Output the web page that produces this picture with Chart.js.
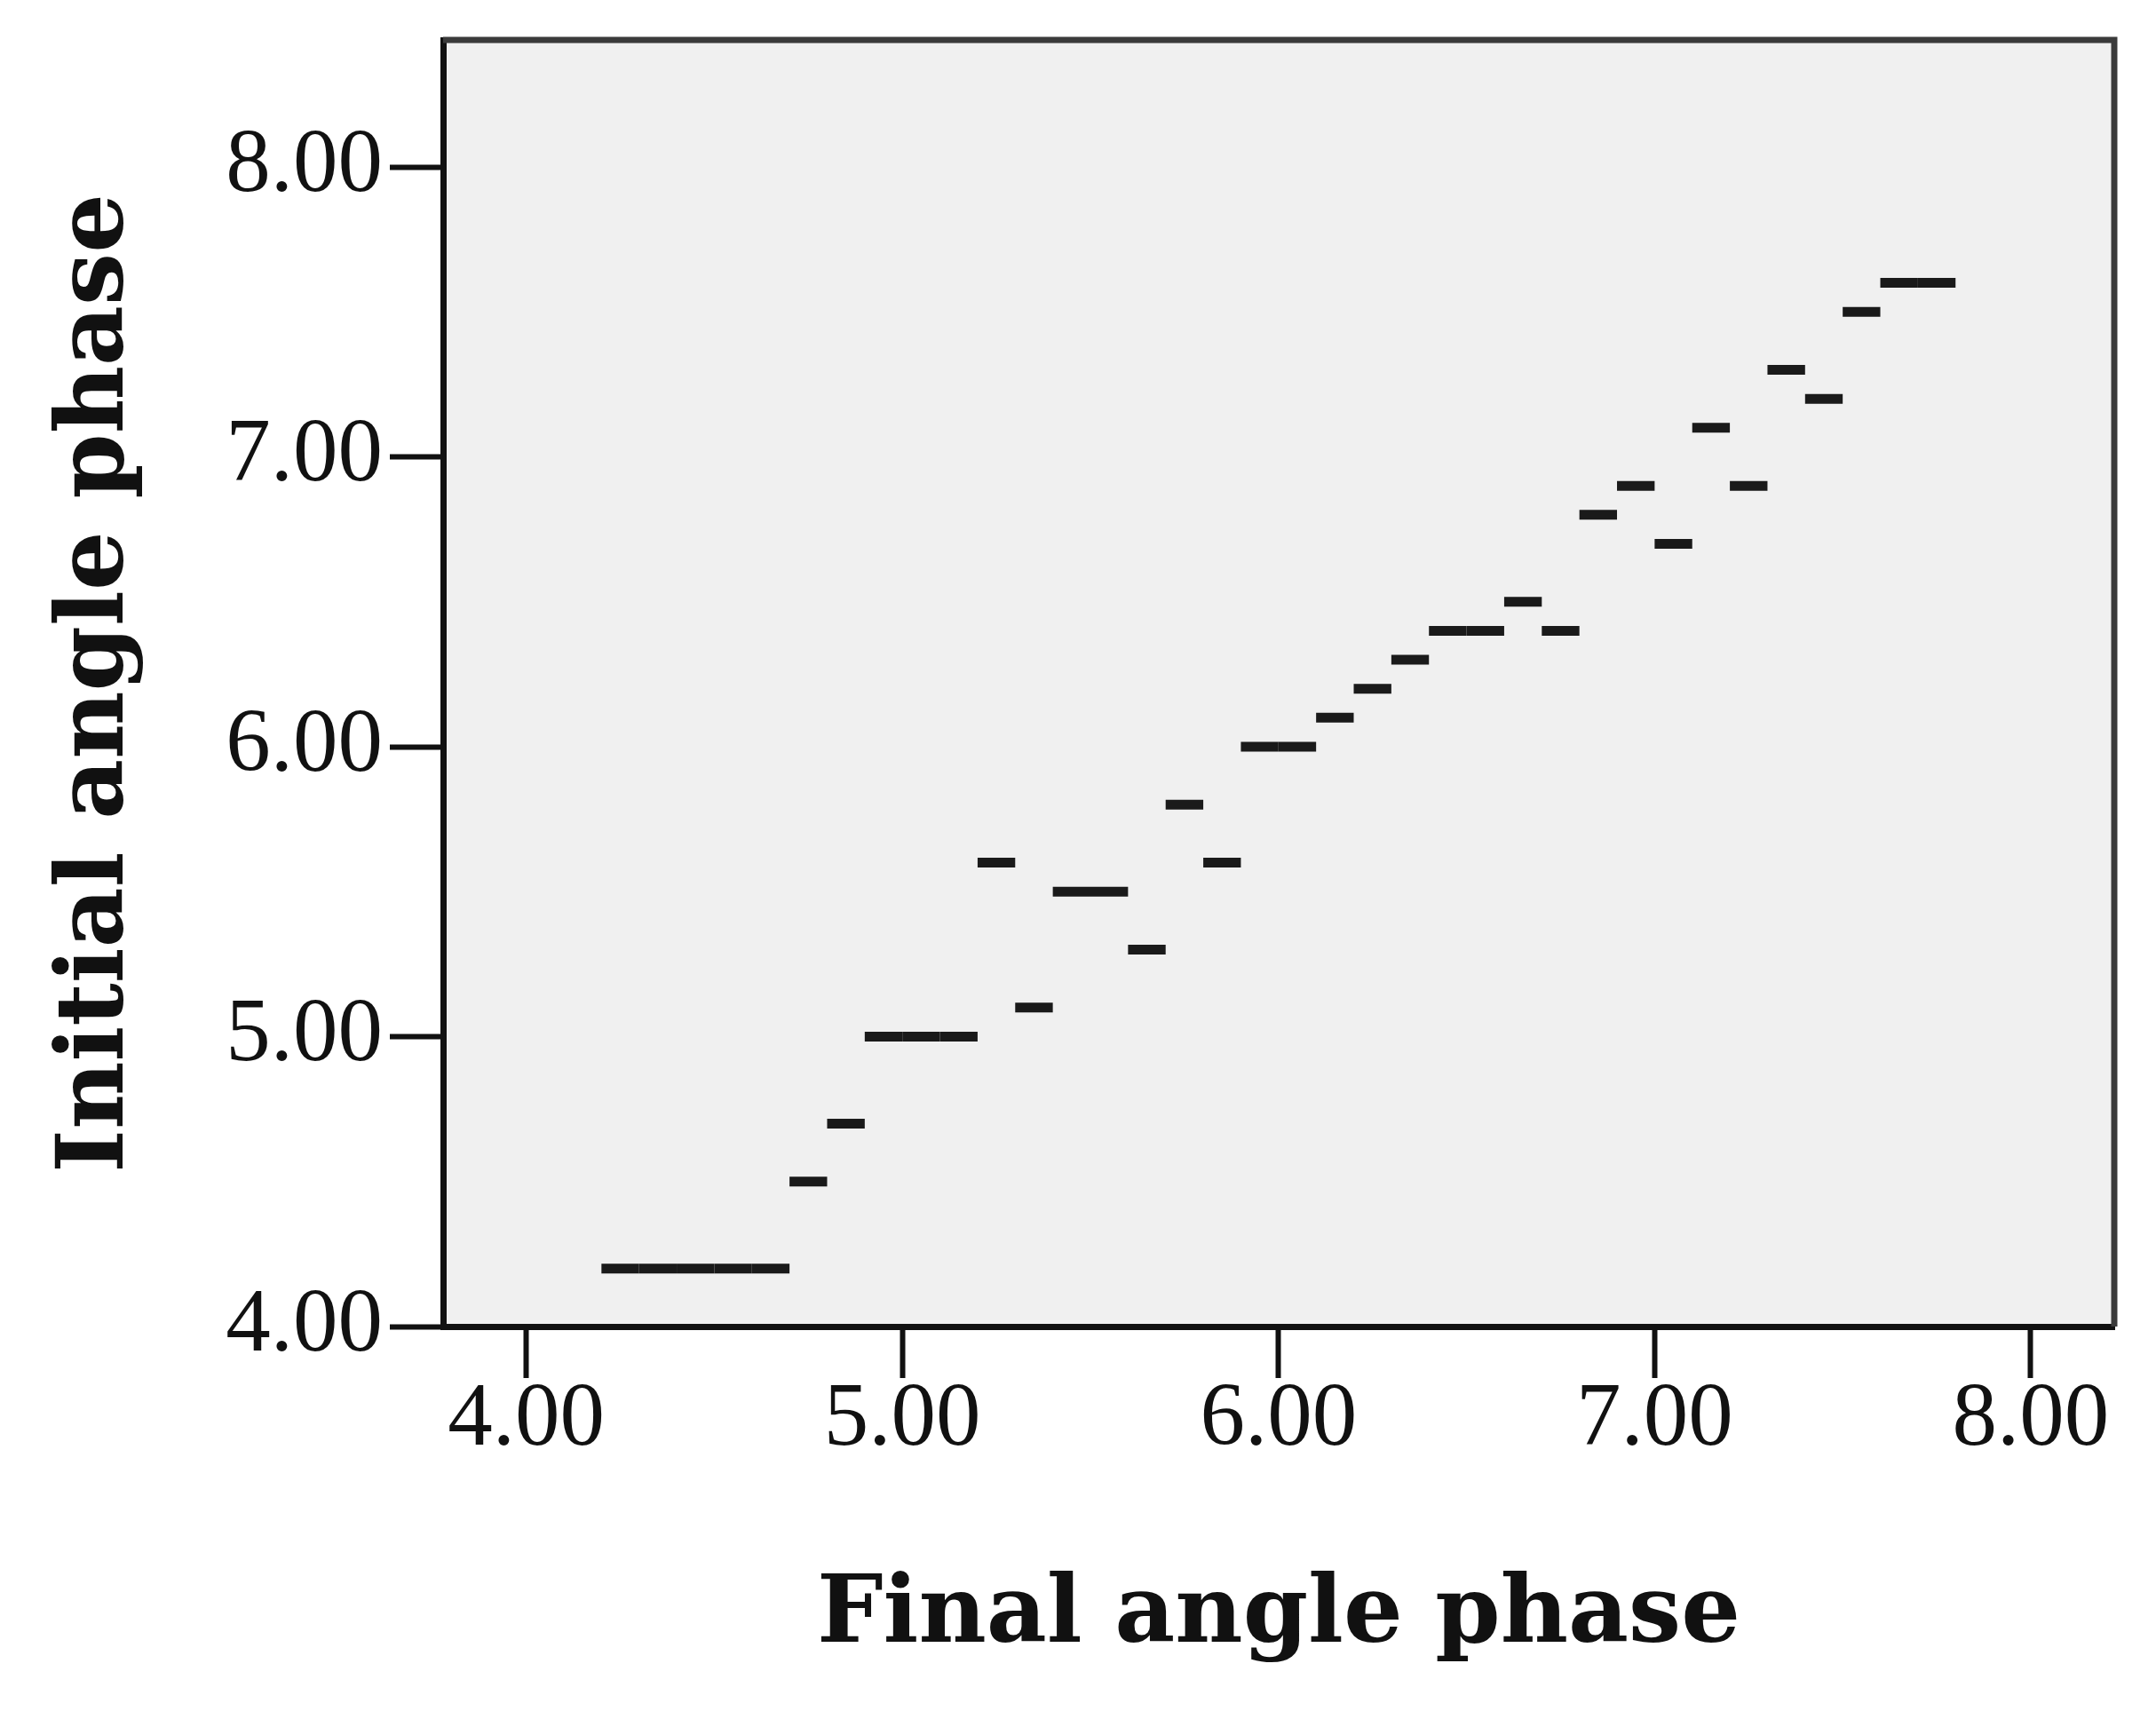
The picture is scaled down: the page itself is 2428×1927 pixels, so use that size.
<!DOCTYPE html>
<html>
<head>
<meta charset="utf-8">
<script src="https://cdn.jsdelivr.net/npm/chart.js@4"></script>
<style>
  html, body { margin: 0; padding: 0; background: #ffffff; }
</style>
</head>
<body>
<canvas id="phaseChart" width="2428" height="1927"></canvas>
<script>
// Final angle phase (x) of each marker
const finalPhase = [4.25, 4.35, 4.45, 4.55, 4.65, 4.75, 4.85, 4.95, 5.05, 5.15,
                    5.25, 5.35, 5.45, 5.55, 5.65, 5.75, 5.85, 5.95, 6.05, 6.15,
                    6.25, 6.35, 6.45, 6.55, 6.65, 6.75, 6.85, 6.95, 7.05, 7.15,
                    7.25, 7.35, 7.45, 7.55, 7.65, 7.75];
// Initial angle phase (y) of each marker
const initialPhase = [4.2, 4.2, 4.2, 4.2, 4.2, 4.5, 4.7, 5.0, 5.0, 5.0,
                      5.6, 5.1, 5.5, 5.5, 5.3, 5.8, 5.6, 6.0, 6.0, 6.1,
                      6.2, 6.3, 6.4, 6.4, 6.5, 6.4, 6.8, 6.9, 6.7, 7.1,
                      6.9, 7.3, 7.2, 7.5, 7.6, 7.6];
const xTicks = [4, 5, 6, 7, 8];
const yTicks = [4, 5, 6, 7, 8];
const xRange = [3.779, 8.222];
const yRange = [4, 8.438];
const markerWidth = 0.1; // each dash covers one 0.1 step on the x axis

const canvas = document.getElementById('phaseChart');

// grey plot background plus the thin top/right frame
const plotFrame = {
    id: 'plotFrame',
    beforeDraw(chart) {
        const { ctx, chartArea: a } = chart;
        ctx.save();
        ctx.fillStyle = '#f0f0f0';
        ctx.fillRect(a.left, a.top, a.right - a.left, a.bottom - a.top);
        ctx.restore();
    },
    afterDraw(chart) {
        const { ctx, chartArea: a } = chart;
        ctx.save();
        ctx.strokeStyle = '#3a3a3a';
        ctx.lineWidth = 7;
        ctx.beginPath();
        ctx.moveTo(a.left, a.top);
        ctx.lineTo(a.right, a.top);
        ctx.lineTo(a.right, a.bottom);
        ctx.stroke();
        ctx.restore();
    }
};

function dashRadius(ctx) { // half of one x step, in pixels
    const s = ctx.chart.scales.x;
    return Math.abs(s.getPixelForValue(markerWidth) - s.getPixelForValue(0)) / 2;
}

const tickFont = { family: 'Liberation Serif', size: 101 };
const titleFont = { family: 'DejaVu Serif', weight: 'bold', size: 105 };

new Chart(canvas, {
    type: 'scatter',
    data: {
        datasets: [{
            data: finalPhase.map((x, i) => ({ x: x, y: initialPhase[i] })),
            pointStyle: 'line',
            pointRadius: dashRadius,
            pointHoverRadius: dashRadius,
            pointBorderWidth: 11,
            pointHoverBorderWidth: 11,
            pointBorderColor: '#1a1a1a',
            pointBackgroundColor: '#1a1a1a',
            showLine: false
        }]
    },
    options: {
        responsive: false,
        animation: false,
        devicePixelRatio: 1,
        layout: { padding: { top: 45, right: 47, left: 0, bottom: 0 } },
        plugins: {
            legend: { display: false },
            tooltip: { enabled: false }
        },
        scales: {
            x: {
                type: 'linear',
                min: xRange[0],
                max: xRange[1],
                afterBuildTicks: s => { s.ticks = xTicks.map(v => ({ value: v })); },
                afterFit: s => { s.height = 433; s.paddingLeft = 0; s.paddingRight = 0; },
                grid: { drawOnChartArea: false, drawTicks: true, tickLength: 58, tickWidth: 6, tickColor: '#111' },
                border: { display: true, color: '#111', width: 7 },
                ticks: {
                    font: tickFont,
                    color: '#111',
                    padding: -12,
                    maxRotation: 0,
                    callback: v => Number(v).toFixed(2)
                },
                title: {
                    display: true,
                    text: 'Final angle phase',
                    font: titleFont,
                    color: '#111',
                    padding: { top: 0, bottom: 42 }
                }
            },
            y: {
                type: 'linear',
                min: yRange[0],
                max: yRange[1],
                afterBuildTicks: s => { s.ticks = yTicks.map(v => ({ value: v })); },
                afterFit: s => { s.width = 499; s.paddingTop = 0; s.paddingBottom = 0; },
                grid: { drawOnChartArea: false, drawTicks: true, tickLength: 60, tickWidth: 6, tickColor: '#111' },
                border: { display: true, color: '#111', width: 7 },
                ticks: {
                    font: tickFont,
                    color: '#111',
                    padding: 8,
                    callback: v => Number(v).toFixed(2)
                },
                title: {
                    display: true,
                    text: 'Initial angle phase',
                    font: titleFont,
                    color: '#111',
                    padding: { top: 48, bottom: 0 }
                }
            }
        }
    },
    plugins: [plotFrame]
});
</script>
</body>
</html>
